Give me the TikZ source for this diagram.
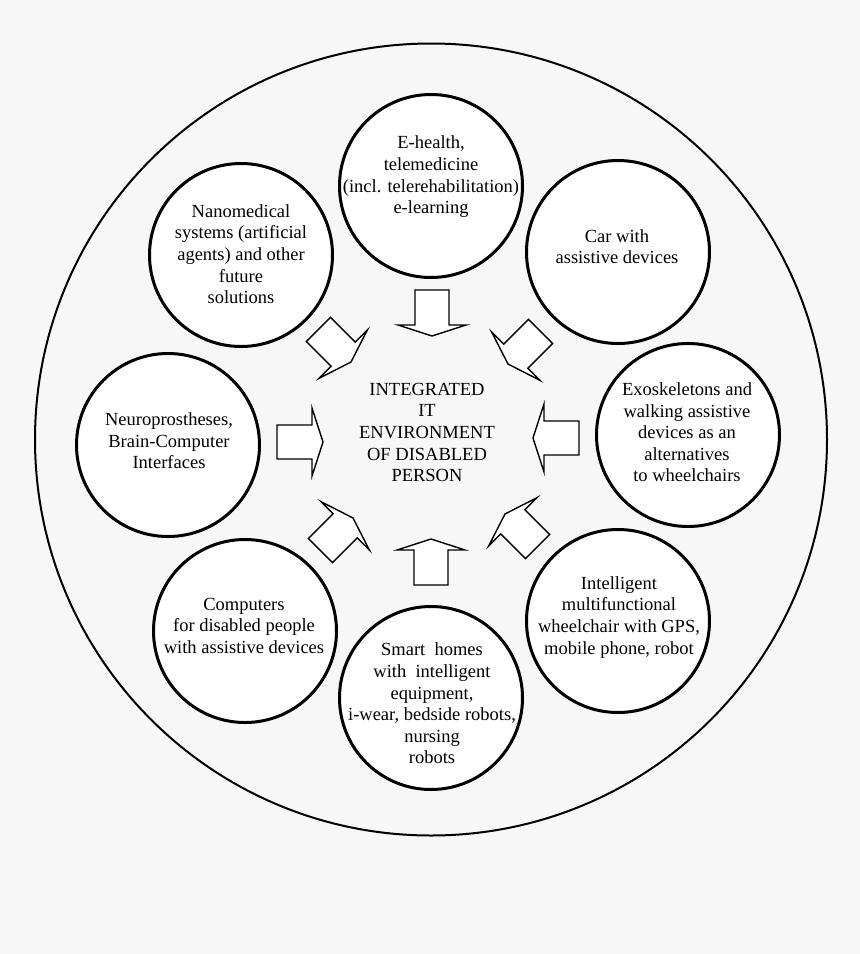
\documentclass[tikz,border=0pt]{standalone}
\usepackage{fontspec}
\setmainfont{Liberation Serif}
\definecolor{bgcol}{HTML}{F7F7F7}
\begin{document}
\begin{tikzpicture}[x=1pt,y=-1pt,
  bubble/.style={circle, draw=black, line width=3pt, fill=white, minimum size=183pt, inner sep=0pt},
  txt/.style={align=center, anchor=north, inner sep=0pt, font=\fontsize{18.5}{21.6}\selectfont},
  arrowline/.style={draw=black, line width=1.4pt, fill=white, line join=miter},
  barrow/.pic={\path[arrowline] (0,0) -- (-11,34) -- (-11,17) -- (-46,17) -- (-46,-17) -- (-11,-17) -- (-11,-34) -- cycle;}
]
\fill[bgcol] (0,0) rectangle (860,954);
\useasboundingbox (0,0) rectangle (860,954);

% outer ring
\node[circle, draw=black, line width=2pt, minimum size=792pt, inner sep=0pt] (outer) at (431,439.5) {};

% satellite circles
\node[bubble] (c1) at (431,186) {};
\node[bubble] (c2) at (618,252) {};
\node[bubble] (c3) at (688,435) {};
\node[bubble] (c4) at (618,621) {};
\node[bubble] (c5) at (431,698) {};
\node[bubble] (c6) at (245,631) {};
\node[bubble] (c7) at (168,445) {};
\node[bubble] (c8) at (241,255) {};

% block arrows pointing to the centre
\pic[rotate=-90]  at (432,336) {barrow};
\pic[rotate=-135] at (508,364) {barrow};
\pic[rotate=180]  at (533,438) {barrow};
\pic[rotate=135]  at (505,514) {barrow};
\pic[rotate=90]   at (431,539) {barrow};
\pic[rotate=45]   at (353,518) {barrow};
\pic[rotate=0]    at (323,442) {barrow};
\pic[rotate=-45]  at (351,362) {barrow};

% texts
\node[txt] (core) at (427,382.8) {INTEGRATED\\IT\\ENVIRONMENT\\OF DISABLED\\PERSON};
\node[txt] (t1) at (431,135.8) {E-health,\\telemedicine\\(incl. telerehabilitation)\\e-learning};
\node[txt] (t2) at (617,229.2) {Car with\\assistive devices};
\node[txt] (t3) at (687,382.5) {Exoskeletons and\\walking assistive\\devices as an\\alternatives\\to wheelchairs};
\node[txt] (t4) at (619,576.2) {Intelligent\\multifunctional\\wheelchair with GPS,\\mobile phone, robot};
\node[txt] (t5) at (432,642.8) {Smart\ \ homes\\with\ \ intelligent\\equipment,\\i-wear, bedside robots,\\nursing\\robots};
\node[txt] (t6) at (244,597.8) {Computers\\for disabled people\\with assistive devices};
\node[txt] (t7) at (169,412.5) {Neuroprostheses,\\Brain-Computer\\Interfaces};
\node[txt] (t8) at (241,204.2) {Nanomedical\\systems (artificial\\agents) and other\\future\\solutions};
\end{tikzpicture}
\end{document}
